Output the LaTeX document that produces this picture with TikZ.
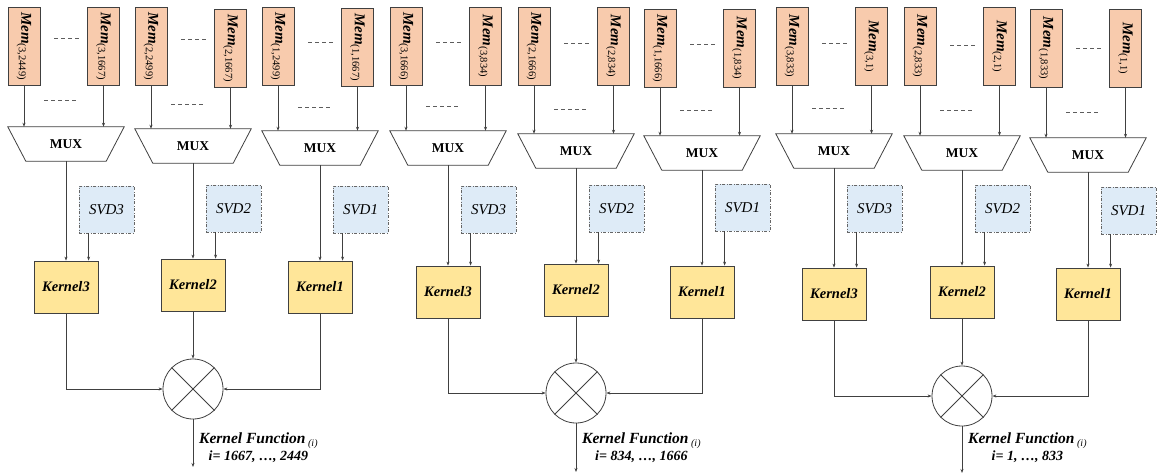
\documentclass[tikz,border=0pt]{standalone}
\usepackage{fontspec}
\setmainfont{Liberation Serif}
\usetikzlibrary{arrows.meta}

\definecolor{memfill}{HTML}{F8CBAD}
\definecolor{kerfill}{HTML}{FFE699}
\definecolor{svdfill}{HTML}{DEEBF7}
\definecolor{edge}{HTML}{404040}

% memory label: bold italic name with an upright index pair
\newcommand\memlabel[1]{{\fontsize{15}{15}\selectfont\bfseries\itshape Mem}\raisebox{-2.5pt}{\fontsize{10.5}{10.5}\selectfont #1}}

\tikzset{
  memnode/.style={draw=edge, line width=0.8pt, fill=memfill, rotate=-90,
    minimum width=78pt, minimum height=32pt, inner sep=0pt},
  muxbox/.style={minimum width=116pt, minimum height=34pt, inner sep=0pt,
    font=\fontsize{13.5}{13.5}\selectfont\bfseries},
  muxshape/.style={draw=edge, line width=0.8pt, fill=white},
  svdnode/.style={draw=edge!80, line width=0.8pt,
    dash pattern=on 3pt off 1.5pt on 1pt off 1.5pt, fill=svdfill,
    minimum width=55pt, minimum height=47pt, inner sep=0pt,
    font=\fontsize{15}{15}\selectfont\itshape},
  kernode/.style={draw=edge, line width=0.8pt, fill=kerfill,
    minimum width=64pt, minimum height=52pt, inner sep=0pt,
    font=\fontsize{14.5}{14.5}\selectfont\bfseries\itshape},
  mult/.style={draw=edge, line width=0.8pt, circle, minimum size=60pt, inner sep=0pt},
  crossline/.style={draw=edge, line width=0.8pt},
  arr/.style={draw=edge, line width=0.7pt, -{Stealth[length=4pt,width=3pt]}},
  gap/.style={draw=edge!85, line width=0.9pt, dash pattern=on 4pt off 3pt},
  outlabel/.style={align=center, inner sep=0pt, anchor=west,
    font=\fontsize{15.5}{17}\selectfont\bfseries\itshape},
}

\begin{document}
\begin{tikzpicture}[x=1pt, y=-1pt]
\useasboundingbox (0,0) rectangle (1159,474);

% one memory/MUX/SVD/kernel column per entry
\foreach \id/\cx/\yM/\yMR/\yX/\yS/\yK/\dT/\dB/\r/\nL/\nR in {
  a/66/7/7/127/186/261/38/100/3/2449/1667,
  b/193/7/9/129/185/259/39/104/2/2499/1667,
  c/320/7/8/131/186/261/42/107/1/2499/1667,
  d/448/7/7/131/186/266/42/106/3/1666/834,
  e/576/7/7/134/185/264/43/109/2/1666/834,
  f/702/9/9/136/184/266/44/110/1/1666/834,
  g/834/7/7/134/185/268/43/108/3/833/1,
  h/962/7/7/136/185/266/45/110/2/833/1,
  i/1088/9/9/138/187/268/48/112/1/833/1}{
  \node[memnode] (mL\id) at (\cx-42,\yM+39) {\memlabel{(\r,\nL)}};
  \node[memnode] (mR\id) at (\cx+37.5,\yMR+39) {\memlabel{(\r,\nR)}};
  \draw[gap] (\cx-12,\dT) -- (\cx+14,\dT);
  \draw[gap] (\cx-22,\dB) -- (\cx+12,\dB);
  \node[muxbox] (x\id) at (\cx,\yX+17) {};
  \draw[muxshape] (x\id.north west) -- (x\id.north east)
     -- ([xshift=-18pt]x\id.south east) -- ([xshift=18pt]x\id.south west) -- cycle;
  \node[muxbox] at (x\id.center) {MUX};
  \draw[arr] (mL\id) -- (mL\id |- x\id.north);
  \draw[arr] (mR\id) -- (mR\id |- x\id.north);
  \node[svdnode] (s\id) at (\cx+40.5,\yS+23.5) {SVD\r};
  \node[kernode] (k\id) at (\cx,\yK+26) {Kernel\r};
  \draw[arr] (x\id.south) -- (k\id);
  \coordinate (sa\id) at ([xshift=10pt]s\id.south west);
  \draw[arr] (sa\id) -- (sa\id |- k\id.north);
}

% multipliers combining the three kernels of each group
\foreach \g/\kl/\km/\kr/\px/\py/\oy/\lo/\hi in {
  1/a/b/c/193/389/467/1667/2449,
  2/d/e/f/576/393/472/834/1666,
  3/g/h/i/962/396/473/1/833}{
  \node[mult] (X\g) at (\px,\py) {};
  \draw[crossline] (X\g.north west) -- (X\g.south east)
                   (X\g.north east) -- (X\g.south west);
  \draw[arr] (k\kl) |- (X\g);
  \draw[arr] (k\km) -- (X\g);
  \draw[arr] (k\kr) |- (X\g);
  \coordinate (o\g) at (\px,\oy);
  \draw[arr] (X\g) -- (o\g);
  \node[outlabel] (t\g) at (\px+6,448)
    {Kernel Function\,\raisebox{-3pt}{\fontsize{10}{10}\selectfont\mdseries(\textit{i})}\\
     {\fontsize{14}{17}\selectfont i= \lo, …, \hi}};
}
\end{tikzpicture}
\end{document}
